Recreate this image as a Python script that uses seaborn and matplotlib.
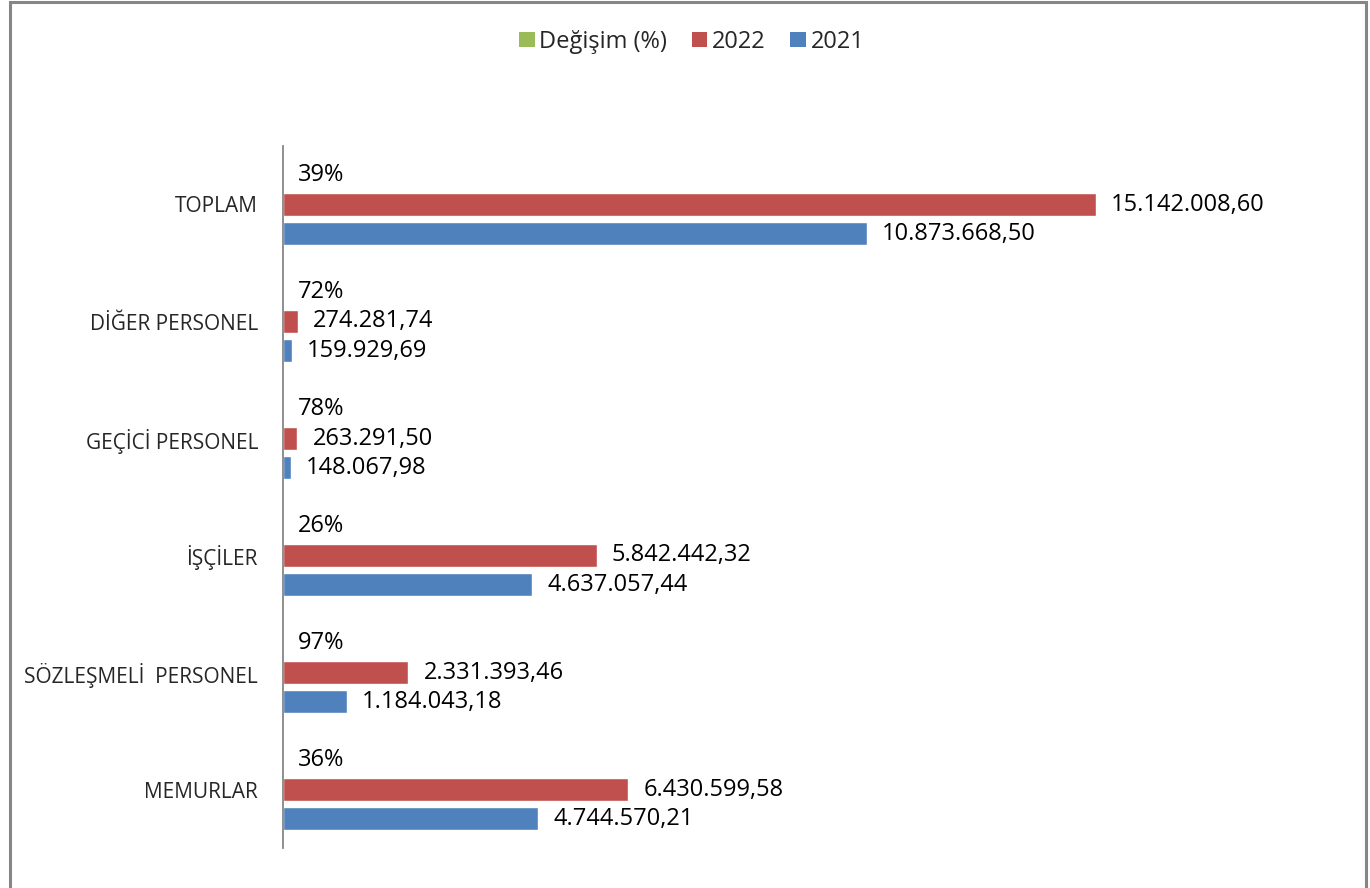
import matplotlib
matplotlib.use("Agg")
import matplotlib.pyplot as plt
import seaborn as sns
import pandas as pd
from matplotlib.patches import Rectangle, Patch

categories = ["TOPLAM", "DİĞER PERSONEL", "GEÇİCİ PERSONEL", "İŞÇİLER",
              "SÖZLEŞMELİ  PERSONEL", "MEMURLAR"]
values_2022 = [15142008.60, 274281.74, 263291.50, 5842442.32, 2331393.46, 6430599.58]
values_2021 = [10873668.50, 159929.69, 148067.98, 4637057.44, 1184043.18, 4744570.21]
change_pct = [0.39, 0.72, 0.78, 0.26, 0.97, 0.36]
series_names = ["Değişim (%)", "2022", "2021"]
colors = {"Değişim (%)": "#9BBB59", "2022": "#C0504D", "2021": "#4F81BD"}

rows = []
for i, c in enumerate(categories):
    rows.append((c, series_names[0], change_pct[i]))
    rows.append((c, series_names[1], values_2022[i]))
    rows.append((c, series_names[2], values_2021[i]))
df = pd.DataFrame(rows, columns=["cat", "series", "value"])

sns.set_theme(style="white")
plt.rcParams["font.family"] = ["Open Sans", "DejaVu Sans"]
FS = 17

fig = plt.figure(figsize=(13.7, 8.88), dpi=100)
ax = fig.add_axes([283/1370, 1-848/888, (1142-283)/1370, (848-146)/888])

sns.barplot(data=df, y="cat", x="value", hue="series", order=categories,
            hue_order=series_names, palette=colors, orient="h",
            width=0.75, gap=0.22, dodge=True, legend=False, ax=ax,
            saturation=1, err_kws={"linewidth": 0})

def tr_fmt(v):
    s = f"{v:,.2f}"
    return s.replace(",", "X").replace(".", ",").replace("X", ".")

for cont, name in zip(ax.containers, series_names):
    if name == "Değişim (%)":
        labels = [f"{round(v*100):d}%" for v in change_pct]
    elif name == "2022":
        labels = [tr_fmt(v) for v in values_2022]
    else:
        labels = [tr_fmt(v) for v in values_2021]
    ax.bar_label(cont, labels=labels, padding=11, fontsize=FS, color="black")

ax.set_xlim(0, 16e6)
ax.set_ylim(5.5, -0.5)
ax.set_xlabel("")
ax.set_ylabel("")
ax.set_xticks([])
ax.tick_params(axis="y", length=0, pad=18, labelsize=15)
for s in ["top", "right", "bottom"]:
    ax.spines[s].set_visible(False)
ax.spines["left"].set_color("#868686")
ax.spines["left"].set_linewidth(1.3)

handles = [Patch(facecolor=colors[n], edgecolor="none", label=n) for n in series_names]
fig.legend(handles=handles, loc="center", bbox_to_anchor=(0.505, 0.953), ncol=3,
           frameon=False, fontsize=FS, handlelength=0.65, handleheight=0.65,
           handletextpad=0.2, columnspacing=1.05)

fig.patches.append(Rectangle((10/1370, -0.02), (1366-10)/1370, 1.02-2/888,
                             transform=fig.transFigure, fill=False,
                             edgecolor="#868686", linewidth=2.2))

fig.savefig("out.png", dpi=100, facecolor="white")
